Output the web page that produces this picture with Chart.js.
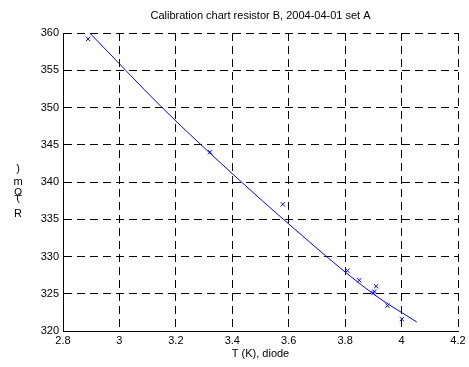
<!DOCTYPE html>
<html>
<head>
<meta charset="utf-8">
<script src="https://cdn.jsdelivr.net/npm/chart.js@4/dist/chart.umd.min.js"></script>
<style>
  html, body { margin: 0; padding: 0; background: #fff; }
  #wrap { width: 469px; height: 367px; }
</style>
</head>
<body>
<div id="wrap"><canvas id="calChart"></canvas></div>
<script>
// measured points (T in K, R in mOhm)
const measT = [2.889, 3.321, 3.579, 3.808, 3.850, 3.910, 3.900, 3.903, 3.950, 4.001];
const measR = [359.2, 344.0, 337.0, 328.1, 326.8, 326.0, 325.1, 325.3, 323.4, 321.6];

// fitted curve
const fitT = [2.895, 3.151, 3.289, 3.581, 3.899, 4.054];
const fitR = [360.0, 350.0, 345.0, 335.0, 325.0, 321.2];

const xTicks = [2.8, 3, 3.2, 3.4, 3.6, 3.8, 4, 4.2];
const yTicks = [320, 325, 330, 335, 340, 345, 350, 355, 360];

const titleText = 'Calibration chart resistor B, 2004-04-01 set A';
const xLabel = 'T (K), diode';
// y label came out as stacked glyphs in the original
const yLabelChars = [')', 'm', '\u03A9', '(', 'R'];
const yLabelBase = [172, 185, 196, 201, 217];

const FONT = '"Liberation Sans", Arial, sans-serif';

const textPlugin = {
    id: 'texts',
    afterDraw(chart) {
        const ctx = chart.ctx;
        const area = chart.chartArea;
        const cx = (area.left + area.right) / 2;
        ctx.save();
        ctx.fillStyle = '#000';
        ctx.font = '11px ' + FONT;
        ctx.textAlign = 'center';
        ctx.textBaseline = 'alphabetic';
        ctx.fillText(titleText, cx, 19);
        ctx.fillText(xLabel, cx, 357);
        for (let i = 0; i < yLabelChars.length; i++) {
            ctx.fillText(yLabelChars[i], 18, yLabelBase[i]);
        }
        ctx.restore();
    }
};

const ctx = document.getElementById('calChart').getContext('2d');
new Chart(ctx, {
    type: 'scatter',
    data: {
        datasets: [
            {
                label: 'fit',
                data: fitT.map((t, i) => ({ x: t, y: fitR[i] })),
                showLine: true,
                borderColor: '#0000ff',
                borderWidth: 1,
                pointRadius: 0,
                cubicInterpolationMode: 'monotone',
                fill: false
            },
            {
                label: 'measured',
                data: measT.map((t, i) => ({ x: t, y: measR[i] })),
                pointStyle: 'crossRot',
                pointRadius: 3,
                borderColor: '#0000ff',
                borderWidth: 1,
                backgroundColor: '#0000ff'
            }
        ]
    },
    options: {
        responsive: true,
        maintainAspectRatio: false,
        animation: false,
        layout: { padding: { top: 33, right: 11, left: 0, bottom: 0 } },
        plugins: {
            legend: { display: false },
            title: { display: false },
            tooltip: { enabled: false }
        },
        scales: {
            x: {
                type: 'linear',
                min: 2.8,
                max: 4.2,
                afterBuildTicks: (scale) => { scale.ticks = xTicks.map(v => ({ value: v })); },
                afterFit: (scale) => { scale.height = 36; },
                ticks: {
                    color: '#000',
                    padding: 3,
                    maxRotation: 0,
                    font: { family: FONT, size: 11 },
                    callback: (v) => String(v)
                },
                grid: { color: '#000', lineWidth: 1, drawTicks: false },
                border: { color: '#000', width: 1, dash: [8, 5] }
            },
            y: {
                type: 'linear',
                min: 320,
                max: 360,
                afterBuildTicks: (scale) => { scale.ticks = yTicks.map(v => ({ value: v })); },
                afterFit: (scale) => { scale.width = 63; },
                ticks: {
                    color: '#000',
                    padding: 4,
                    font: { family: FONT, size: 11 },
                    callback: (v) => String(v)
                },
                grid: { color: '#000', lineWidth: 1, drawTicks: false },
                border: { color: '#000', width: 1, dash: [8, 5] }
            }
        }
    },
    plugins: [textPlugin]
});
</script>
</body>
</html>
